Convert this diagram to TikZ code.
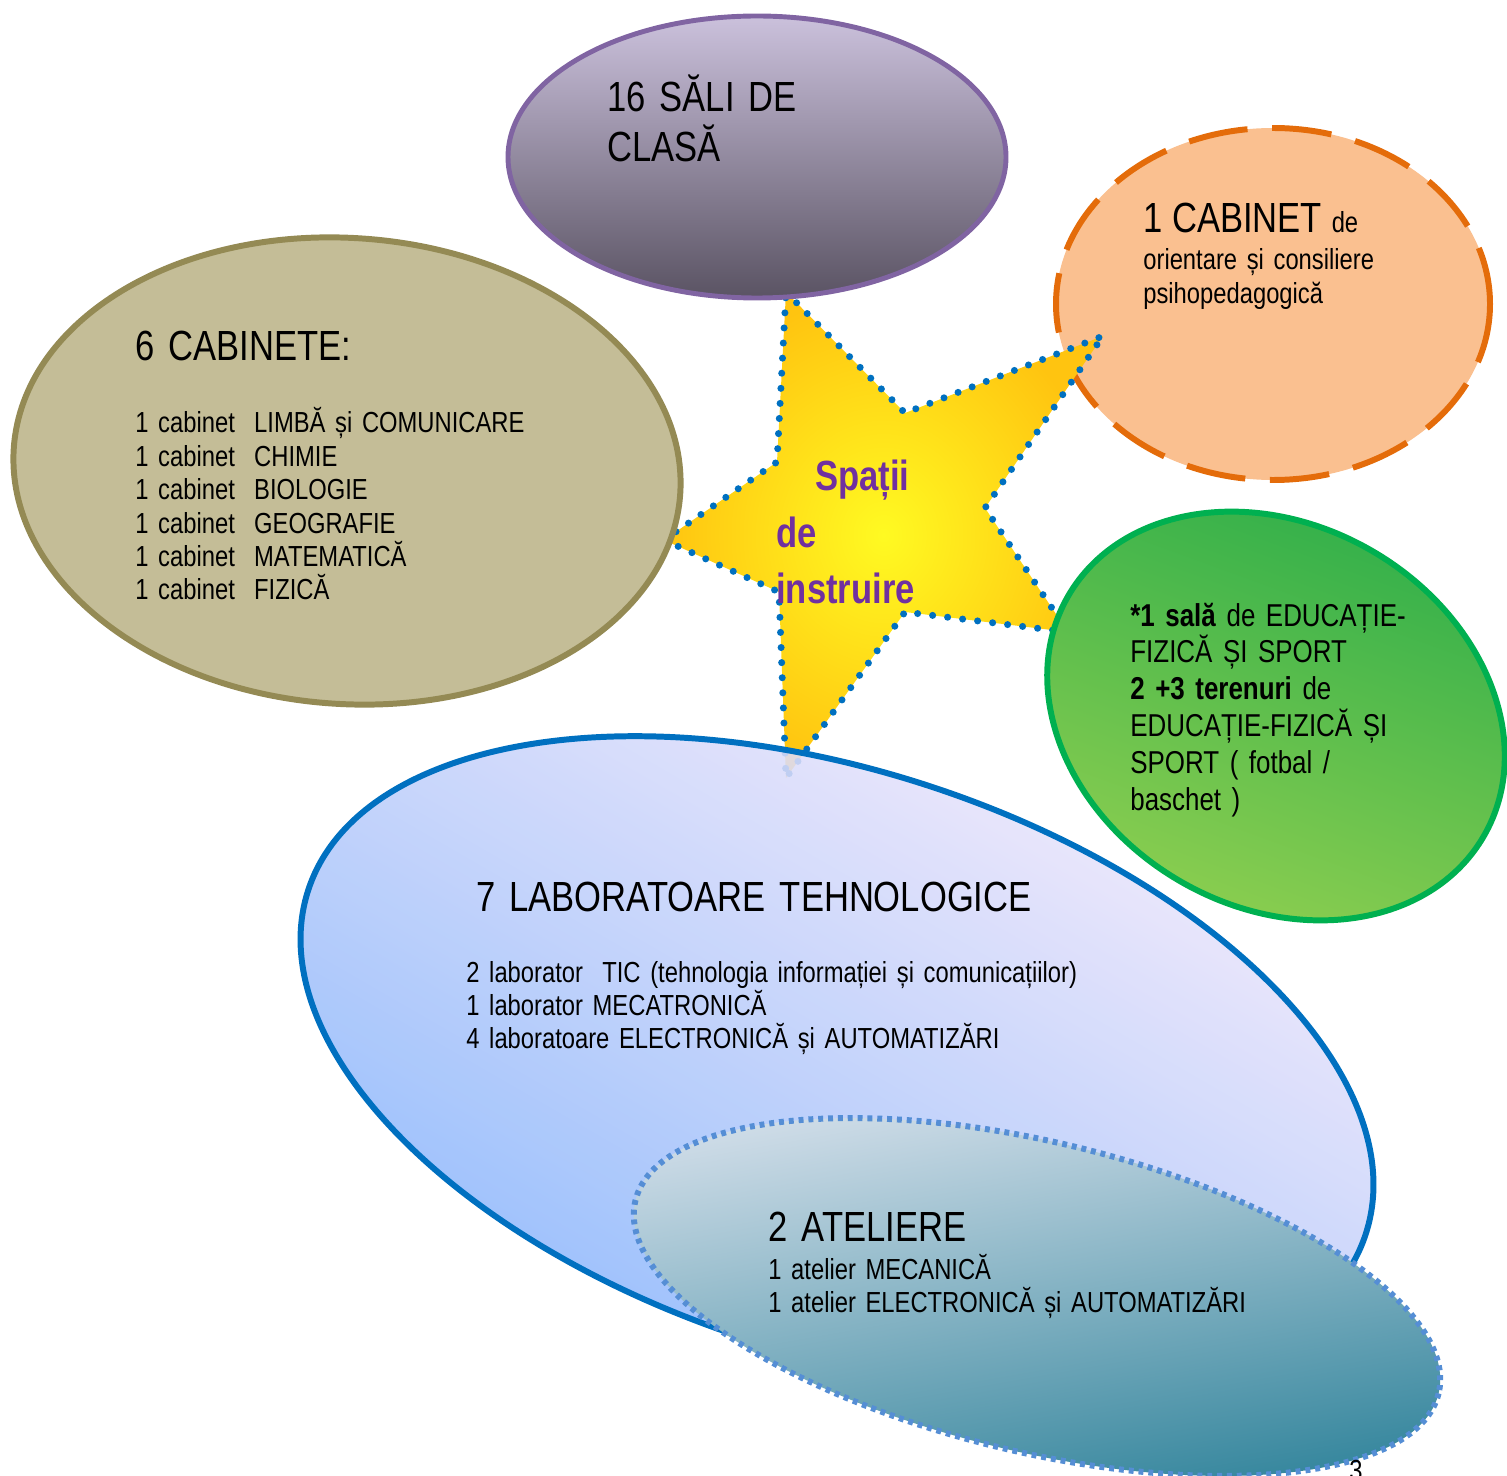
\documentclass[tikz,border=0pt]{standalone}
\usepackage{fontspec}
\setmainfont[FakeStretch=0.82, WordSpace=0.75]{Liberation Sans}
\usetikzlibrary{positioning}

\definecolor{salitop}{HTML}{CBC1DC}
\definecolor{salibot}{HTML}{5A5363}
\definecolor{saliline}{HTML}{8064A2}
\definecolor{cabfill}{HTML}{C4BD97}
\definecolor{cabline}{HTML}{948A54}
\definecolor{orfill}{HTML}{FAC090}
\definecolor{orline}{HTML}{E46C0A}
\definecolor{gtop}{HTML}{2DAE4A}
\definecolor{gbot}{HTML}{92D050}
\definecolor{gline}{HTML}{00B050}
\definecolor{labpink}{HTML}{F7EAFA}
\definecolor{labmid}{HTML}{A4CDF8}
\definecolor{labblue}{HTML}{82B2FC}
\definecolor{labline}{HTML}{0070C0}
\definecolor{atlight}{HTML}{D4DFEA}
\definecolor{atmid}{HTML}{78A3B5}
\definecolor{atdark}{HTML}{31849B}
\definecolor{atline}{HTML}{558ED5}
\definecolor{staryel}{HTML}{FFFA22}
\definecolor{starorg}{HTML}{FFC410}
\definecolor{starpurple}{HTML}{7030A0}

\tikzset{
  titletxt/.style={anchor=base west, inner sep=0pt, align=left, text width=14cm,
    font=\fontsize{24}{28.3}\selectfont},
  listtxt/.style={anchor=base west, inner sep=0pt, align=left, text width=14cm,
    font=\fontsize{16.5}{19}\selectfont},
  greentxt/.style={anchor=base west, inner sep=0pt, align=left, text width=8cm,
    font=\fontsize{18}{21}\selectfont},
  startxt/.style={anchor=base west, inner sep=0pt, text=starpurple,
    font=\bfseries\fontsize{24}{28}\selectfont},
}

\begin{document}
\begin{tikzpicture}[x=0.02cm, y=-0.02cm]
  \useasboundingbox (0,0) rectangle (1507,1476);

  % orientare (dashed)
  \draw[fill=orfill, draw=orline, line width=3.4pt, dash pattern=on 34pt off 14pt]
    (1273,304) ellipse [x radius=217, y radius=176];

  % star in the middle
  \shade[inner color=staryel, outer color=starorg]
    (786,292) -- (905,413) -- (1103,336) -- (985,508) -- (1068,632) -- (905,612)
    -- (786,778) -- (779,592) -- (664,540) -- (777,462) -- cycle;
  \draw[draw=labline, line width=4pt, line cap=round, dash pattern=on 0pt off 8.6pt]
    (786,292) -- (905,413) -- (1103,336) -- (985,508) -- (1068,632) -- (905,612)
    -- (786,778) -- (779,592) -- (664,540) -- (777,462) -- cycle;

  % cabinete
  \draw[rotate around={-4:(347,471)}, fill=cabfill, draw=cabline, line width=3.4pt]
    (347,471) ellipse [x radius=334, y radius=233];

  % sali de clasa
  \draw[top color=salitop, bottom color=salibot, draw=saliline, line width=2.8pt]
    (757,157) ellipse [x radius=249, y radius=141];

  % sport
  \draw[rotate around={-30:(1276,716)}, top color=gtop, bottom color=gbot,
        shading angle=-20, draw=gline, line width=3.4pt]
    (1276,716) ellipse [x radius=240, y radius=191];

  % laboratoare
  \draw[rotate around={-18:(837,1062)}, top color=labpink, middle color=labmid,
        bottom color=labblue, shading angle=-30, fill opacity=0.88,
        draw=labline, line width=3.4pt]
    (837,1062) ellipse [x radius=556, y radius=291];

  % ateliere
  \draw[rotate around={-13.5:(1037,1297)}, top color=atlight, middle color=atmid,
        bottom color=atdark, shading angle=10, draw=atline, line width=3.4pt,
        dash pattern=on 2.8pt off 2.8pt]
    (1037,1297) ellipse [x radius=413, y radius=155];

  % texts
  \node[titletxt] (sali) at (607,112) {16 SĂLI DE\\CLASĂ};

  \node[titletxt] (cabtitle) at (135,361) {6 CABINETE:};
  \node[listtxt] (cablist) at (135,433) {1 cabinet~ LIMBĂ și COMUNICARE\\
    1 cabinet~ CHIMIE\\1 cabinet~ BIOLOGIE\\1 cabinet~ GEOGRAFIE\\
    1 cabinet~ MATEMATICĂ\\1 cabinet~ FIZICĂ};

  \node[listtxt] (orient) at (1143,233) {{\fontsize{24}{28}\selectfont 1 CABINET} de\\[2pt]
    orientare și consiliere\\psihopedagogică};

  \node[greentxt] (sport) at (1130,626) {\textbf{*1 sală} de EDUCAȚIE-\\
    FIZICĂ ȘI SPORT\\\textbf{2 +3 terenuri} de\\EDUCAȚIE-FIZICĂ ȘI\\
    SPORT ( fotbal /\\baschet )};

  \node[titletxt] (labtitle) at (476,911) {7 LABORATOARE TEHNOLOGICE};
  \node[listtxt] (lablist) at (466,982) {2 laborator~ TIC (tehnologia informației și comunicațiilor)\\
    1 laborator MECATRONICĂ\\4 laboratoare ELECTRONICĂ și AUTOMATIZĂRI};

  \node[titletxt] (attitle) at (768,1241) {2 ATELIERE};
  \node[listtxt] (atlist) at (768,1279) {1 atelier MECANICĂ\\
    1 atelier ELECTRONICĂ și AUTOMATIZĂRI};

  \node[startxt] (spatii) at (815,490) {Spații};
  \node[startxt] (de) at (776,547) {de};
  \node[startxt] (instruire) at (776,603) {instruire};

  \node[anchor=base, inner sep=0pt, font=\fontsize{16.5}{19}\selectfont] (pagenum)
    at (1356,1480) {3};
\end{tikzpicture}
\end{document}
